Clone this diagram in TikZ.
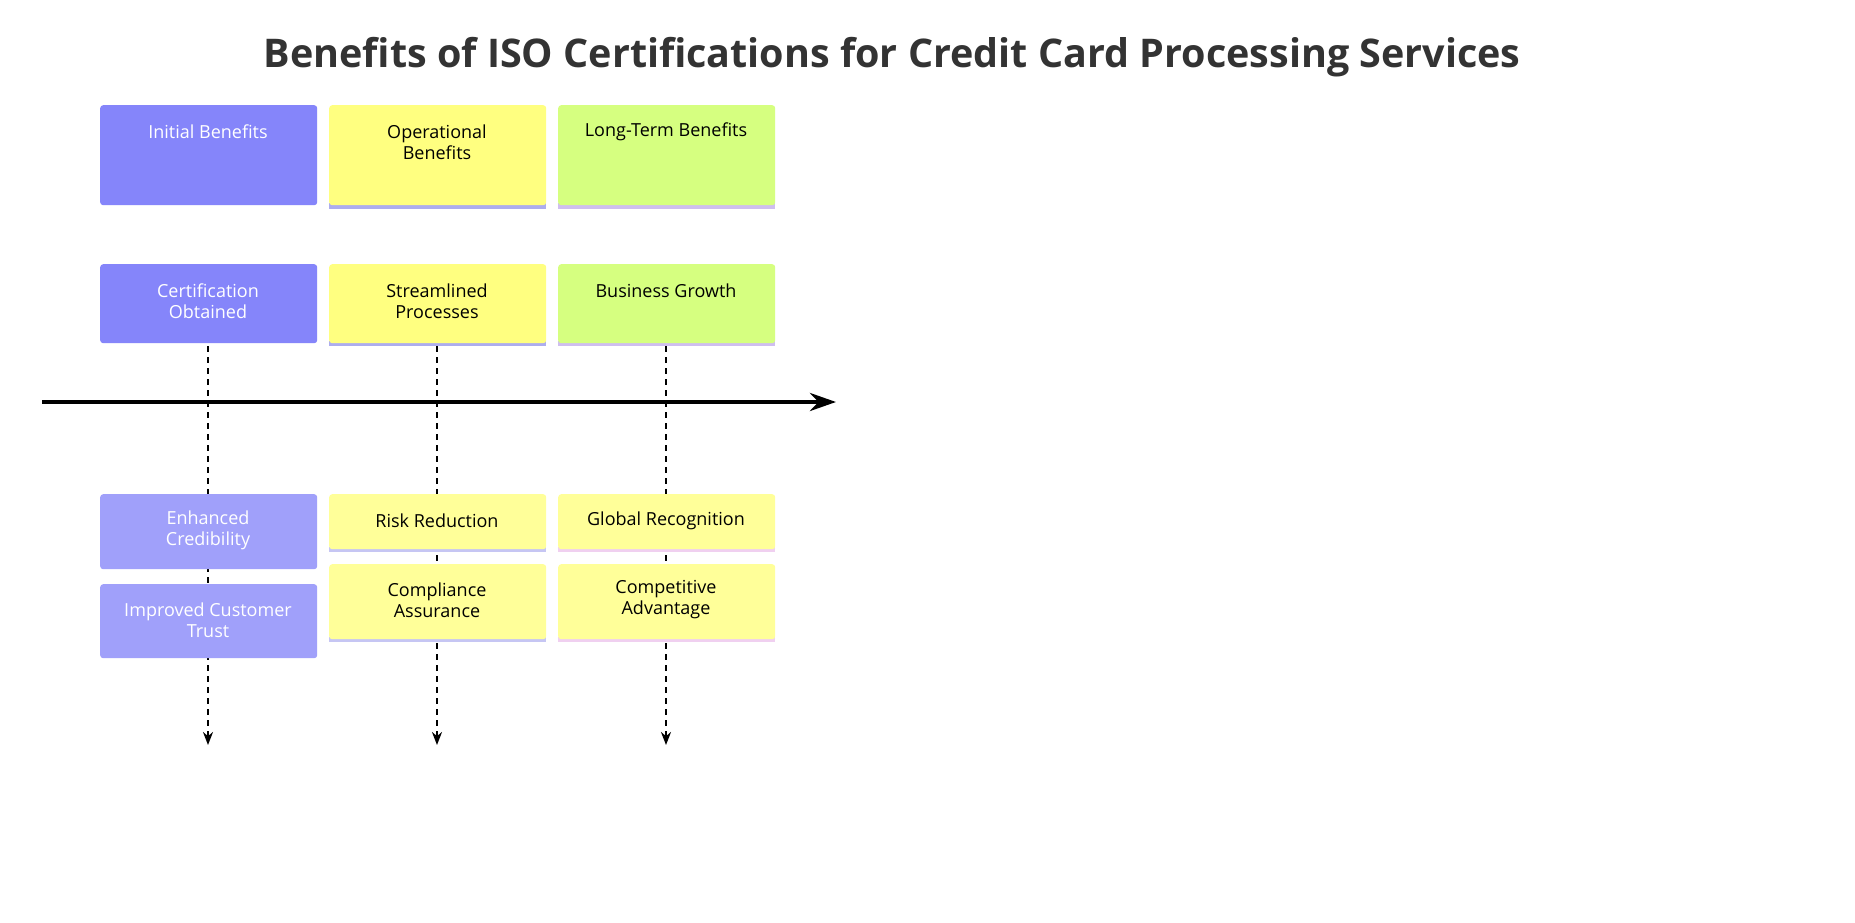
\documentclass[tikz,border=0pt]{standalone}
\usepackage{fontspec}
\setmainfont{Open Sans}
\usetikzlibrary{arrows.meta}
\definecolor{pblue}{HTML}{8585FA}
\definecolor{lblue}{HTML}{A0A0FA}
\definecolor{pyel}{HTML}{FFFF80}
\definecolor{lyel}{HTML}{FFFF99}
\definecolor{pgrn}{HTML}{D6FF80}
\definecolor{strp}{HTML}{ADADEE}
\definecolor{pink}{HTML}{F0D0F0}
\tikzset{
 bx/.style={rounded corners=3pt,inner sep=0pt,minimum width=217pt,anchor=north west},
 tx/.style={align=center,font=\fontsize{18}{21}\selectfont},
 dl/.style={dash pattern=on 6pt off 5pt,line width=2.4pt,-{Stealth[length=13pt,width=10pt]}},
}
\begin{document}
\begin{tikzpicture}[x=1pt,y=-1pt]
\fill[white] (0,0) rectangle (1855,923);
\node[font=\bfseries\fontsize{39.5}{44}\selectfont,text=black!80] (title) at (892,57) {Benefits of ISO Certifications for Credit Card Processing Services};
% dashed lifelines
\coordinate (e1) at (208,745);\coordinate (e2) at (437,745);\coordinate (e3) at (666,745);
\coordinate (s1) at (208,346);\coordinate (s2) at (437,346);\coordinate (s3) at (666,346);
\draw[dl] (s1)--(e1); \draw[dl] (s2)--(e2); \draw[dl] (s3)--(e3);
% axis
\coordinate (a0) at (42,402);\coordinate (a1) at (836,402);
\draw[line width=4.5pt,-{Stealth[length=26pt,width=18pt]}] (a0)--(a1);
% stripes
\foreach \x/\c in {329/strp,558/pink!50!strp}{
 \fill[\c] (\x,203) rectangle ++(217,6);
 \fill[\c] (\x,341) rectangle ++(217,5);}
\fill[strp!70] (329,547) rectangle ++(217,5);
\fill[strp!70] (329,637) rectangle ++(217,5);
\fill[pink] (558,547) rectangle ++(217,5);
\fill[pink] (558,637) rectangle ++(217,5);
% boxes
\node[bx,fill=pblue,minimum height=100pt] (ib) at (100,105) {};
\node[tx,text=white] (ibt) at (208,132) {Initial Benefits};
\node[bx,fill=pyel,minimum height=100pt] (ob) at (329,105) {};
\node[tx] (obt) at (437,142) {Operational\\Benefits};
\node[bx,fill=pgrn,minimum height=100pt] (lb) at (558,105) {};
\node[tx] (lbt) at (666,132) {Long-Term Benefits};

\node[bx,fill=pblue,minimum height=79pt] (co) at (100,264) {};
\node[tx,text=white] (cot) at (208,301) {Certification\\Obtained};
\node[bx,fill=pyel,minimum height=79pt] (sp) at (329,264) {};
\node[tx] (spt) at (437,301) {Streamlined\\Processes};
\node[bx,fill=pgrn,minimum height=79pt] (bg) at (558,264) {};
\node[tx] (bgt) at (666,291) {Business Growth};

\node[bx,fill=lblue,minimum height=75pt] (ec) at (100,494) {};
\node[tx,text=white] (ect) at (208,530) {Enhanced\\Credibility};
\node[bx,fill=lblue,minimum height=74pt] (ic) at (100,584) {};
\node[tx,text=white] (ict) at (208,620) {Improved Customer\\Trust};

\node[bx,fill=lyel,minimum height=55pt] (rr) at (329,494) {};
\node[tx] (rrt) at (437,521) {Risk Reduction};
\node[bx,fill=lyel,minimum height=75pt] (ca) at (329,564) {};
\node[tx] (cat) at (437,600) {Compliance\\Assurance};
\node[bx,fill=lyel,minimum height=55pt] (gr) at (558,494) {};
\node[tx] (grt) at (666,521) {Global Recognition};
\node[bx,fill=lyel,minimum height=75pt] (cav) at (558,564) {};
\node[tx] (cavt) at (666,600) {Competitive\\Advantage};
\pgfresetboundingbox
\path[use as bounding box] (0,0) rectangle (1855,923);
\end{tikzpicture}
\end{document}
